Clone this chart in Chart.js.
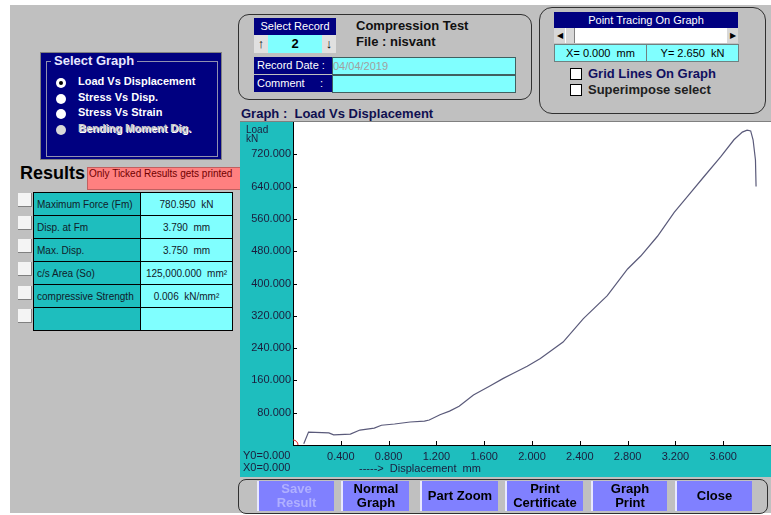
<!DOCTYPE html>
<html>
<head>
<meta charset="utf-8">
<script src="https://cdn.jsdelivr.net/npm/chart.js@4/dist/chart.umd.min.js"></script>
<style>
  body { margin: 0; width: 771px; height: 515px; background: #fff; font-family: Arial, "Liberation Sans", sans-serif; overflow: hidden; }
  .abs { position: absolute; }
  #bg { left: 10px; top: 5px; width: 761px; height: 508px; background: #c0c0c0; }
  .navy { background: #000080; color: #fff; }
  .cyan { background: #80ffff; }
  .teal { background: #1ebebe; }
  .rbox { border: 1px solid #303030; border-radius: 11px; }
  .lbl { font-size: 11px; white-space: nowrap; }
  .radio { width: 10px; height: 10px; border-radius: 50%; background: #fff; }
  .chk { width: 13px; height: 13px; background: #f4f4f4; border-right: 1px solid #808080; border-bottom: 1px solid #808080; }
  .btn { top: 481px; height: 30px; background: #8080ff; border-left: 2px solid #e8e8ff; font-weight: bold; font-size: 13px; text-align: center; line-height: 14px; display: flex; align-items: center; justify-content: center; color: #000; }
  .tr td { border: 1px solid #000; height: 22px; padding: 0 3px; font-size: 10px; color: #10202a; }
</style>
</head>
<body>
<div id="bg" class="abs"></div>

<!-- Select Graph -->
<div class="abs navy" style="left:40px;top:52px;width:180px;height:106px;border:1px solid #808080;"></div>
<div class="abs" style="left:46px;top:61px;width:170px;height:94px;border:1px solid #9090b0;"></div>
<div class="abs navy" style="left:51px;top:53px;padding:0 3px;font-size:13px;font-weight:bold;color:#e8e8ff;">Select Graph</div>
<div class="abs radio" style="left:56px;top:78px;"></div><div class="abs" style="left:59px;top:81px;width:4px;height:4px;border-radius:50%;background:#000;"></div>
<div class="abs lbl" style="left:78px;top:75px;color:#fff;font-weight:bold;">Load Vs Displacement</div>
<div class="abs radio" style="left:56px;top:94px;"></div>
<div class="abs lbl" style="left:78px;top:91px;color:#fff;font-weight:bold;">Stress Vs Disp.</div>
<div class="abs radio" style="left:56px;top:109px;"></div>
<div class="abs lbl" style="left:78px;top:106px;color:#fff;font-weight:bold;">Stress Vs Strain</div>
<div class="abs radio" style="left:56px;top:125px;background:#d8d8d8;"></div>
<div class="abs lbl" style="left:78px;top:122px;color:#c8c8c8;font-weight:bold;text-shadow:1px 1px 0 #fff;">Bending Moment Dig.</div>

<!-- Results -->
<div class="abs" style="left:20px;top:163px;font-size:18px;font-weight:bold;color:#000;">Results</div>
<div class="abs" style="left:87px;top:167px;width:152px;height:21px;background:#ff8080;border:1px solid #c06060;font-size:10px;color:#700000;line-height:11px;padding-left:1px;">Only Ticked Results gets printed</div>
<table class="abs" style="left:33px;top:192px;width:200px;border-collapse:collapse;">
  <tr class="tr"><td class="teal" style="width:100px;">Maximum Force (Fm)</td><td class="cyan" style="text-align:center;">780.950 &nbsp;kN</td></tr>
  <tr class="tr"><td class="teal">Disp. at Fm</td><td class="cyan" style="text-align:center;">3.790 &nbsp;mm</td></tr>
  <tr class="tr"><td class="teal">Max. Disp.</td><td class="cyan" style="text-align:center;">3.750 &nbsp;mm</td></tr>
  <tr class="tr"><td class="teal">c/s Area (So)</td><td class="cyan" style="text-align:center;">125,000.000 &nbsp;mm&sup2;</td></tr>
  <tr class="tr"><td class="teal">compressive Strength</td><td class="cyan" style="text-align:center;">0.006 &nbsp;kN/mm&sup2;</td></tr>
  <tr class="tr"><td class="teal">&nbsp;</td><td class="cyan">&nbsp;</td></tr>
</table>
<div class="abs chk" style="left:18px;top:193px;"></div>
<div class="abs chk" style="left:18px;top:216px;"></div>
<div class="abs chk" style="left:18px;top:239px;"></div>
<div class="abs chk" style="left:18px;top:262px;"></div>
<div class="abs chk" style="left:18px;top:286px;"></div>
<div class="abs chk" style="left:18px;top:309px;"></div>

<!-- record box -->
<div class="abs rbox" style="left:238px;top:14px;width:292px;height:84px;"></div>
<div class="abs navy lbl" style="left:254px;top:18px;width:82px;height:17px;line-height:16px;text-align:center;">Select Record</div>
<div class="abs" style="left:254px;top:35px;width:14px;height:18px;background:#e0e0e0;font-size:13px;line-height:18px;text-align:center;">&#8593;</div>
<div class="abs cyan" style="left:268px;top:35px;width:54px;height:18px;font-size:13px;font-weight:bold;text-align:center;line-height:18px;">2</div>
<div class="abs" style="left:322px;top:35px;width:14px;height:18px;background:#e0e0e0;font-size:13px;line-height:18px;text-align:center;">&#8595;</div>
<div class="abs" style="left:356px;top:18px;font-size:13px;font-weight:bold;color:#101010;">Compression Test</div>
<div class="abs" style="left:356px;top:34px;font-size:13px;font-weight:bold;color:#101010;">File : nisvant</div>
<div class="abs navy lbl" style="left:254px;top:57px;width:76px;height:17px;line-height:17px;padding-left:3px;">Record Date :</div>
<div class="abs cyan lbl" style="left:332px;top:57px;width:182px;height:16px;line-height:16px;color:#a0a0a0;border:1px solid #406060;">04/04/2019</div>
<div class="abs navy lbl" style="left:254px;top:75px;width:76px;height:17px;line-height:17px;padding-left:3px;">Comment &nbsp;&nbsp;&nbsp;&nbsp;:</div>
<div class="abs cyan" style="left:332px;top:75px;width:182px;height:16px;border:1px solid #406060;"></div>

<!-- point tracing box -->
<div class="abs rbox" style="left:539px;top:7px;width:225px;height:105px;border-radius:13px;"></div>
<div class="abs navy lbl" style="left:554px;top:12px;width:184px;height:16px;line-height:16px;text-align:center;">Point Tracing On Graph</div>
<div class="abs" style="left:554px;top:28px;width:184px;height:15px;background:#fff;"></div>
<div class="abs" style="left:554px;top:28px;width:11px;height:15px;background:#d8d8d8;font-size:8px;line-height:15px;text-align:center;">&#9664;</div>
<div class="abs" style="left:566px;top:28px;width:8px;height:15px;background:#d8d8d8;border-right:1px solid #808080;"></div>
<div class="abs" style="left:727px;top:28px;width:11px;height:15px;background:#d8d8d8;font-size:8px;line-height:15px;text-align:center;">&#9654;</div>
<div class="abs cyan lbl" style="left:554px;top:44px;width:91px;height:16px;line-height:16px;text-align:center;border:1px solid #708080;">X= 0.000 &nbsp;mm</div>
<div class="abs cyan lbl" style="left:646px;top:44px;width:91px;height:16px;line-height:16px;text-align:center;border:1px solid #708080;">Y= 2.650 &nbsp;kN</div>
<div class="abs" style="left:570px;top:68px;width:10px;height:10px;background:#fff;border:1px solid #000;"></div>
<div class="abs" style="left:588px;top:66px;font-size:13px;font-weight:bold;color:#101060;">Grid Lines On Graph</div>
<div class="abs" style="left:570px;top:84px;width:10px;height:10px;background:#fff;border:1px solid #000;"></div>
<div class="abs" style="left:588px;top:82px;font-size:13px;font-weight:bold;color:#202020;">Superimpose select</div>

<!-- graph -->
<div class="abs" style="left:241px;top:106px;font-size:13px;font-weight:bold;color:#101050;">Graph : &nbsp;Load Vs Displacement</div>
<div class="abs teal" style="left:240px;top:121px;width:531px;height:356px;border-top:1px solid #808080;box-sizing:border-box;"></div>
<canvas id="chart" class="abs" style="left:240px;top:121px;" width="531" height="356"></canvas>
<div class="abs" style="left:246px;top:125px;font-size:10px;line-height:9px;color:#1c1c3c;">Load<br>kN</div>
<div class="abs lbl" style="left:243px;top:449px;line-height:12px;color:#1c1c3c;">Y0=0.000<br>X0=0.000</div>
<div class="abs lbl" style="left:359px;top:462px;color:#1c1c3c;">-----&gt; &nbsp;Displacement &nbsp;mm</div>

<!-- buttons -->
<div class="abs rbox" style="left:238px;top:479px;width:528px;height:33px;border-radius:8px;"></div>
<div class="abs btn" style="left:257px;width:75px;color:#b0b0ff;">Save<br>Result</div>
<div class="abs btn" style="left:341px;width:66px;">Normal<br>Graph</div>
<div class="abs btn" style="left:420px;width:76px;">Part Zoom</div>
<div class="abs btn" style="left:505px;width:76px;">Print<br>Certificate</div>
<div class="abs btn" style="left:591px;width:74px;">Graph<br>Print</div>
<div class="abs btn" style="left:675px;width:75px;">Close</div>

<script>
// Load vs displacement curve (mm, kN)
const disp = [0.09, 0.13, 0.30, 0.34, 0.48, 0.56, 0.68, 0.74, 0.85, 0.98, 1.10, 1.14, 1.23, 1.31, 1.39,
              1.51, 1.64, 1.76, 1.84, 1.96, 2.07, 2.26, 2.43, 2.63, 2.80, 2.91, 3.05, 3.19, 3.30, 3.44,
              3.58, 3.69, 3.76, 3.80, 3.83, 3.85, 3.87, 3.875];
const load = [3, 32, 30, 25, 27, 37, 42, 49, 52, 57, 59, 62, 75, 84, 96,
              124, 145, 165, 177, 195, 214, 255, 313, 370, 436, 468, 517, 576, 615, 665,
              714, 756, 775, 780, 778, 756, 706, 640];

const xMax = 4.0, xStep = 0.4;
const yMax = 800, yStep = 80;

const fmt = (v, max) => (v <= 0 || v >= max - 1e-6) ? "" : v.toFixed(3);

// white plot area + small inward tick marks
const plotPlugin = {
    id: "plotStuff",
    beforeDraw(chart) {
        const a = chart.chartArea, ctx = chart.ctx;
        ctx.save();
        ctx.fillStyle = "#ffffff";
        ctx.fillRect(a.left, a.top, a.right - a.left, a.bottom - a.top);
        ctx.restore();
    },
    afterDraw(chart) {
        const a = chart.chartArea, ctx = chart.ctx;
        const xs = chart.scales.x, ys = chart.scales.y;
        ctx.save();
        ctx.strokeStyle = "#000";
        ctx.lineWidth = 1;
        ctx.beginPath();
        xs.ticks.forEach(t => {
            if (t.value <= 0 || t.value >= xMax - 1e-6) return;
            const px = Math.round(xs.getPixelForValue(t.value)) + 0.5;
            ctx.moveTo(px, a.bottom);
            ctx.lineTo(px, a.bottom - 4);
        });
        ys.ticks.forEach(t => {
            if (t.value <= 0 || t.value >= yMax - 1e-6) return;
            const py = Math.round(ys.getPixelForValue(t.value)) + 0.5;
            ctx.moveTo(a.left, py);
            ctx.lineTo(a.left + 4, py);
        });
        ctx.stroke();
        ctx.restore();
    }
};

new Chart(document.getElementById("chart"), {
    type: "line",
    data: {
        datasets: [
            {
                data: disp.map((d, i) => ({ x: d, y: load[i] })),
                borderColor: "#5a5a7a",
                borderWidth: 1.2,
                pointRadius: 0,
                tension: 0
            },
            {
                data: [{ x: 0, y: 0 }],
                showLine: false,
                pointRadius: 5,
                borderColor: "#e02020",
                borderWidth: 1,
                backgroundColor: "rgba(0,0,0,0)"
            }
        ]
    },
    options: {
        responsive: false,
        animation: false,
        devicePixelRatio: 1,
        layout: { autoPadding: false, padding: { top: 1, right: 0, bottom: 0, left: 0 } },
        plugins: { legend: { display: false }, tooltip: { enabled: false } },
        scales: {
            x: {
                type: "linear",
                min: 0, max: xMax,
                grid: { display: false, drawTicks: false },
                border: { display: true, color: "#000", width: 1 },
                ticks: {
                    stepSize: xStep, autoSkip: false, maxRotation: 0, padding: 5,
                    color: "#1c1c3c", font: { family: "Arial, 'Liberation Sans'", size: 11 },
                    callback: v => fmt(v, xMax)
                },
                afterFit: s => { s.height = 32; s.paddingLeft = 0; s.paddingRight = 0; }
            },
            y: {
                min: 0, max: yMax,
                grid: { display: false, drawTicks: false },
                border: { display: true, color: "#000", width: 1 },
                ticks: {
                    stepSize: yStep, autoSkip: false, padding: 2,
                    color: "#1c1c3c", font: { family: "Arial, 'Liberation Sans'", size: 11 },
                    callback: v => fmt(v, yMax)
                },
                afterFit: s => { s.width = 53; s.paddingTop = 0; s.paddingBottom = 0; }
            }
        }
    },
    plugins: [plotPlugin]
});
</script>
</body>
</html>
